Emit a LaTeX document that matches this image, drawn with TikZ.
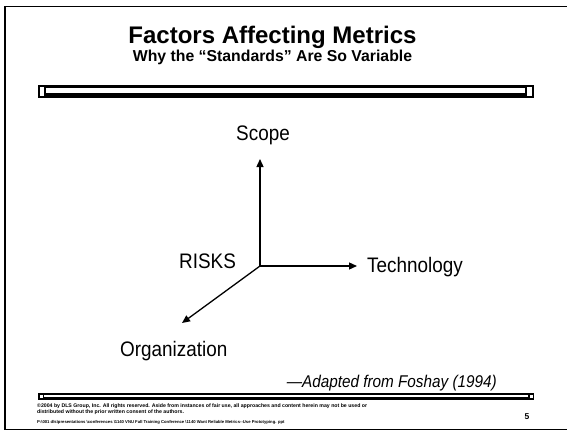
\documentclass[tikz,border=0pt]{standalone}
\usepackage{fontspec}
\setmainfont{Liberation Sans}
\newfontfamily\narrowsans[FakeStretch=0.9]{Liberation Sans}
\usepackage{tikz}
\usetikzlibrary{arrows.meta, positioning}
\tikzset{
    axis/.style={line width=1.3pt, -{Triangle[length=8pt,width=7pt]}},
    factor/.style={font=\narrowsans\fontsize{21}{24}\selectfont, inner sep=0pt},
    footer/.style={inner sep=0pt, anchor=base west},
}

\begin{document}
\begin{tikzpicture}[x=1pt, y=-1pt]
    \useasboundingbox (0,0) rectangle (567,431);

    % slide frame and bars
    \draw[line width=1.5pt] (575,6.5) -- (5,6.5) -- (5,429.5) -- (575,429.5);
    \fill (38,84.5) rectangle (534,97.5);
    \fill[white] (46,88) rectangle (525,93);
    \fill[white] (40,86.5) rectangle (44,95.5);
    \fill[white] (527,86.5) rectangle (532,95.5);
    \fill (38,393) rectangle (534,400);
    \fill[white] (44,395) rectangle (528,397);
    \fill[white] (39.5,394.5) rectangle (42.5,397.5);
    \fill[white] (529.5,394.5) rectangle (532.5,397.5);

    % titles
    \node[anchor=base, inner sep=0pt, font=\fontsize{24}{28}\selectfont\bfseries]
        (title) at (272.5,43) {Factors Affecting Metrics};
    \node[anchor=base, inner sep=0pt, font=\fontsize{15.8}{18}\selectfont\bfseries]
        (subtitle) at (272.5,61) {Why the “Standards” Are So Variable};

    % the three axes
    \coordinate (o) at (260,266);
    \coordinate (up) at (260,159);
    \coordinate (right) at (357,266);
    \coordinate (down) at (182,323);
    \node[factor, anchor=base] (scope) at (263,140) {Scope};
    \node[factor, anchor=base] (risks) at (207.5,268) {RISKS};
    \node[factor, anchor=base west] (tech) at (367,272) {Technology};
    \node[factor, anchor=base west] (org) at (120,356) {Organization};

    \draw[axis] (o) -- (up);
    \draw[axis] (o) -- (right);
    \draw[axis] (o) -- (down);

    \node[anchor=base east, inner sep=0pt, font=\narrowsans\fontsize{17}{20}\selectfont\itshape]
        (source) at (497,387) {—Adapted from Foshay (1994)};

    % footer
    \node[footer, font=\fontsize{5.2}{6}\selectfont\bfseries] (copy1) at (37,407.5) {©2004 by DLS Group, Inc. All rights reserved. Aside from instances of fair use, all approaches and content herein may not be used or};
    \node[footer, font=\fontsize{5.2}{6}\selectfont\bfseries] (copy2) at (37,413.5) {distributed without the prior written consent of the authors.};
    \node[footer, font=\fontsize{4.2}{5}\selectfont\bfseries] (path) at (37,423) {P:\textbackslash 001 dls\textbackslash presentations \textbackslash conferences \textbackslash 1140 VNU Fall Training Conference \textbackslash 1140 Want Reliable Metrics-{}-Use Prototyping. ppt};
    \node[anchor=base, inner sep=0pt, font=\fontsize{8.5}{10}\selectfont\bfseries]
        (page) at (527,419) {5};
\end{tikzpicture}
\end{document}
